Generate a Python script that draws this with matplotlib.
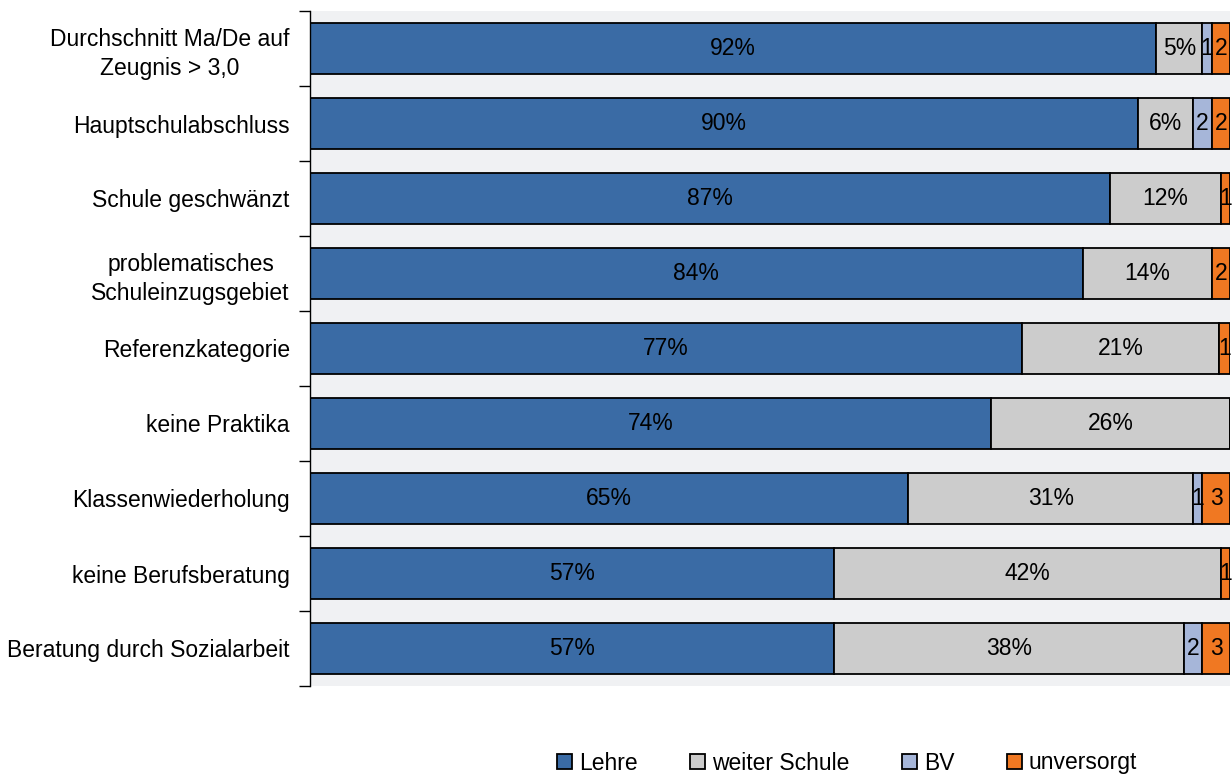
import numpy as np
import matplotlib
matplotlib.use("Agg")
import matplotlib.pyplot as plt

categories = [
    "Durchschnitt Ma/De auf\nZeugnis > 3,0",
    "Hauptschulabschluss",
    "Schule geschwänzt",
    "problematisches\nSchuleinzugsgebiet",
    "Referenzkategorie",
    "keine Praktika",
    "Klassenwiederholung",
    "keine Berufsberatung",
    "Beratung durch Sozialarbeit",
]
lehre = [92, 90, 87, 84, 77.4, 74, 65, 57, 57]
weiter_schule = [5, 6, 12, 14, 21.4, 26, 31, 42, 38]
bv = [1, 2, 0, 0, 0, 0, 1, 0, 2]
unversorgt = [2, 2, 1, 2, 1.2, 0, 3, 1, 3]

series = [
    ("Lehre", lehre, "#3a6ba5", True),
    ("weiter Schule", weiter_schule, "#cccccc", True),
    ("BV", bv, "#a6b6d9", False),
    ("unversorgt", unversorgt, "#f07822", False),
]

plt.rcParams["font.family"] = ["Liberation Sans", "DejaVu Sans"]
FS = 16.5

fig = plt.figure(figsize=(12.32, 7.76), dpi=100)
ax = fig.add_axes([310 / 1232, 1 - 686 / 776, 920 / 1232, 675 / 776])
ax.set_facecolor("#f0f1f3")

y = np.arange(len(categories))
left = np.zeros(len(categories))
for name, vals, color, pct in series:
    vals = np.array(vals, dtype=float)
    ax.barh(y, vals, left=left, height=0.69, color=color, edgecolor="black",
            linewidth=1.3, label=name)
    for yi, (l, v) in enumerate(zip(left, vals)):
        if v <= 0:
            continue
        txt = f"{round(v)}%" if pct else f"{round(v)}"
        ax.text(l + v / 2, yi, txt, ha="center", va="center", fontsize=FS,
                color="black")
    left += vals

ax.set_xlim(0, 100)
ax.set_ylim(len(categories) - 0.5, -0.5)
ax.set_yticks(y)
ax.set_yticklabels(categories, fontsize=FS, multialignment="center",
                   linespacing=1.35)
ax.set_yticks(np.arange(-0.5, len(categories), 1), minor=True)
ax.tick_params(axis="y", which="major", length=0, pad=14.5)
ax.tick_params(axis="y", which="minor", length=8, width=1, direction="out")
ax.set_xticks([])
for s in ["top", "right", "bottom"]:
    ax.spines[s].set_visible(False)
ax.spines["left"].set_linewidth(1)

leg = fig.legend(loc="center", bbox_to_anchor=(847 / 1232, 1 - 763 / 776), ncol=4,
                 frameon=False, fontsize=FS, handlelength=0.65, handleheight=0.65,
                 handletextpad=0.3, columnspacing=2.3)

fig.savefig("out.png", dpi=100)
